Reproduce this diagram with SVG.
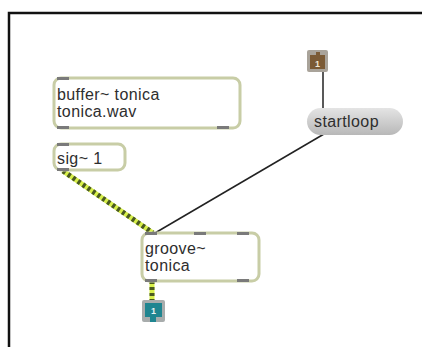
<svg xmlns="http://www.w3.org/2000/svg" width="422" height="347" viewBox="0 0 422 347">
<defs>
<linearGradient id="msg" x1="0" y1="0" x2="0" y2="1">
<stop offset="0" stop-color="#e4e4e4"/>
<stop offset="1" stop-color="#b8b8b8"/>
</linearGradient>
<style>
.obj{fill:#ffffff;stroke:#c8cda6;stroke-width:3}
.port{fill:#7a7a7a}
.t{font-family:"Liberation Sans",Arial,sans-serif;font-size:16px;letter-spacing:0.4px;fill:#2e2e2e}
.cord{stroke:#222;stroke-width:1.5;fill:none}
</style>
</defs>
<rect x="0" y="0" width="422" height="347" fill="#ffffff"/>
<path d="M9 347 V13 H422" fill="none" stroke="#111" stroke-width="2.5"/>

<g id="connectors">
<line x1="63" y1="171" x2="153" y2="233" stroke="#d8f04a" stroke-width="5"/>
<line x1="63" y1="171" x2="153" y2="233" stroke="#4a5a20" stroke-width="5" stroke-dasharray="3 3"/>
<line x1="152" y1="281" x2="152" y2="302" stroke="#d8f04a" stroke-width="5"/>
<line x1="152" y1="281" x2="152" y2="302" stroke="#4a5a20" stroke-width="5" stroke-dasharray="3 3"/>
<line class="cord" x1="323" y1="72" x2="323" y2="108"/>
<line class="cord" x1="324" y1="134" x2="155" y2="233"/>
</g>

<g id="buffer">
<rect class="obj" x="54" y="78" width="186" height="50" rx="7"/>
<rect class="port" x="57" y="77" width="12" height="3"/>
<rect class="port" x="57" y="126" width="12" height="3"/>
<rect class="port" x="217" y="126" width="12" height="3"/>
<text class="t" x="57" y="100">buffer~ tonica</text>
<text class="t" x="57" y="117">tonica.wav</text>
</g>

<g id="sig">
<rect class="obj" x="54" y="144" width="71" height="26" rx="7"/>
<rect class="port" x="57" y="143" width="12" height="3"/>
<rect class="port" x="57" y="168" width="12" height="3"/>
<text class="t" x="57" y="164">sig~ 1</text>
</g>

<g id="groove">
<rect class="obj" x="142" y="233" width="117" height="48" rx="7"/>
<rect class="port" x="145" y="232" width="12" height="3"/>
<rect class="port" x="194" y="232" width="12" height="3"/>
<rect class="port" x="237" y="232" width="12" height="3"/>
<rect class="port" x="145" y="279" width="12" height="3"/>
<rect class="port" x="237" y="279" width="12" height="3"/>
<text class="t" x="145" y="254">groove~</text>
<text class="t" x="145" y="271">tonica</text>
</g>

<g id="startloop">
<rect x="307" y="108" width="96" height="27" rx="13.5" fill="url(#msg)"/>
<text class="t" x="314" y="127">startloop</text>
</g>

<g id="inlet">
<rect x="307" y="50" width="21" height="22" rx="2" fill="#a9a39a"/>
<path d="M310 55 H316 V52 H320 V55 H325 V69 H310 Z" fill="#7b5a35"/>
<text x="317.5" y="67" font-family="Liberation Sans,Arial,sans-serif" font-size="9" font-weight="bold" fill="#f0e8d8" text-anchor="middle">1</text>
</g>

<g id="outlet">
<rect x="142" y="300" width="23" height="22" rx="2" fill="#a8acac"/>
<path d="M145 303 H162 V317 H156 V322 H150 V317 H145 Z" fill="#1f8590"/>
<text x="153.5" y="314" font-family="Liberation Sans,Arial,sans-serif" font-size="9" font-weight="bold" fill="#e8f4f4" text-anchor="middle">1</text>
</g>
</svg>
